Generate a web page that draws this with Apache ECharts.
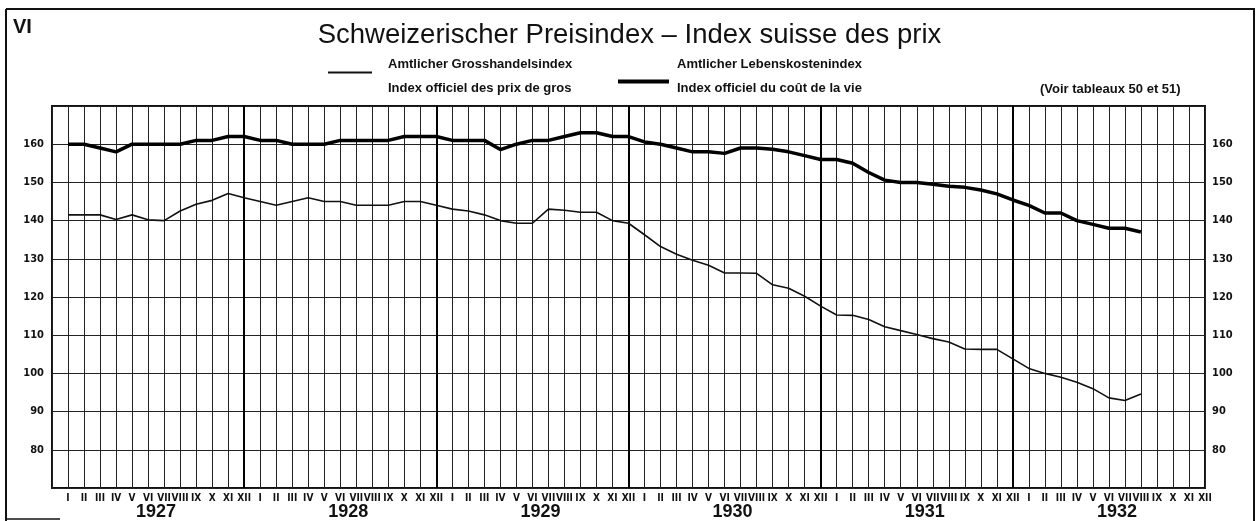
<!DOCTYPE html>
<html>
<head>
<meta charset="utf-8">
<script src="https://cdn.jsdelivr.net/npm/echarts@6/dist/echarts.min.js"></script>
<style>
html,body{margin:0;padding:0;background:#fff;}
#chart{width:1259px;height:521px;}
</style>
</head>
<body>
<div id="chart"></div>
<script>
// Month labels (Roman numerals) and years
const monthLabels = ['I','II','III','IV','V','VI','VII','VIII','IX','X','XI','XII'];
const yearLabels = ['1927','1928','1929','1930','1931','1932'];
// Year-end (XII) positions, month index from I 1927 = 0
const yearEnds = [11, 23, 35, 47, 59];

// Amtlicher Grosshandelsindex (thin line), I 1927 – VIII 1932
const grosshandel = [
  141.5,141.5,141.5,140.3,141.5,140.2,140,142.5,144.3,145.3,147.1,146,
  145,144,145,146,145,145,144,144,144,145,145,144,
  143,142.5,141.5,140,139.3,139.3,143,142.7,142.2,142.2,140,139.3,
  136.3,133.2,131.2,129.6,128.3,126.3,126.3,126.2,123.2,122.3,120.2,117.6,
  115.3,115.2,114.1,112.2,111.2,110.2,109.1,108.2,106.4,106.3,106.3,103.8,
  101.3,100,99,97.7,96,93.6,92.9,94.6
];
// Amtlicher Lebenskostenindex (thick line), I 1927 – VIII 1932
const lebenskosten = [
  160,160,159,158,160,160,160,160,161,161,162,162,
  161,161,160,160,160,161,161,161,161,162,162,162,
  161,161,161,158.6,160,161,161,162,163,163,162,162,
  160.6,160,159,158,158,157.6,159,159,158.7,158,157,156,
  156,155,152.6,150.6,150,150,149.5,149,148.7,148,147,145.4,
  144,142,142,140,139,138,138,137
];

const NARROW = '"Liberation Sans Narrow","DejaVu Sans Condensed","Liberation Sans",Arial,sans-serif';
const SANS = '"Liberation Sans",Arial,sans-serif';

const chart = echarts.init(document.getElementById('chart'), null, {renderer:'canvas'});

function isYearCenter(v){
  const k = (v - 5.5) / 12;
  return Math.abs(k - Math.round(k)) < 1e-6 && Math.round(k) >= 0 && Math.round(k) < yearLabels.length;
}

const legendTextRich = {
  a: {fontFamily: SANS, fontSize: 13, fontWeight: 'bold', color: '#111', lineHeight: 24},
  s: {fontSize: 1, lineHeight: 8}
};
const legendTextRich2 = {
  a: {fontFamily: SANS, fontSize: 13, fontWeight: 'bold', color: '#111', lineHeight: 24},
  s: {fontSize: 1, lineHeight: 10}
};

const option = {
  backgroundColor: '#fff',
  animation: false,
  title: [
    {
      text: 'Schweizerischer Preisindex – Index suisse des prix',
      left: 'center', top: 16,
      textStyle: {fontFamily: SANS, fontSize: 27.5, fontWeight: 'normal', color: '#111'}
    },
    {
      text: 'VI', left: 8, top: 12,
      textStyle: {fontFamily: SANS, fontSize: 20, fontWeight: 'bold', color: '#111'}
    },
    {
      text: '(Voir tableaux 50 et 51)', left: 1035, top: 78,
      textStyle: {fontFamily: SANS, fontSize: 13, fontWeight: 'bold', color: '#111'}
    }
  ],
  legend: [
    {
      data: ['Amtlicher Grosshandelsindex'],
      left: 328, top: 48, padding: 0,
      itemWidth: 44, itemHeight: 2, icon: 'rect',
      formatter: () => '{s| }\n{a|Amtlicher Grosshandelsindex}\n{a|Index officiel des prix de gros}',
      textStyle: {padding: [0,0,0,11], rich: legendTextRich},
      selectedMode: false
    },
    {
      data: ['Amtlicher Lebenskostenindex'],
      left: 618, top: 58, padding: 0,
      itemWidth: 51, itemHeight: 4, icon: 'rect',
      formatter: () => '{a|Amtlicher Lebenskostenindex}\n{a|Index officiel du coût de la vie}\n{s| }',
      textStyle: {padding: [0,0,0,3], rich: legendTextRich2},
      selectedMode: false
    }
  ],
  grid: {
    left: 52, right: 54, top: 106, bottom: 32,
    show: true, borderColor: '#111', borderWidth: 2, backgroundColor: 'transparent'
  },
  xAxis: [
    {
      type: 'value', min: -1, max: 71, interval: 1, position: 'bottom',
      axisLine: {show: false}, axisTick: {show: false},
      splitLine: {show: true, lineStyle: {color: '#222', width: 1}},
      axisLabel: {
        margin: 5, fontFamily: NARROW, fontSize: 10, fontWeight: 'bold', color: '#111',
        showMinLabel: true, showMaxLabel: true,
        formatter: v => (v < 0 ? '' : monthLabels[((Math.round(v) % 12) + 12) % 12])
      }
    },
    {
      type: 'value', min: -1, max: 71, interval: 0.5, position: 'bottom',
      axisLine: {show: false}, axisTick: {show: false}, splitLine: {show: false},
      axisLabel: {
        margin: 15, fontFamily: SANS, fontSize: 18, fontWeight: 'bold', color: '#111',
        formatter: v => isYearCenter(v) ? yearLabels[Math.round((v - 5.5) / 12)] : ''
      }
    }
  ],
  yAxis: [
    {
      type: 'value', min: 70, max: 170, interval: 10, position: 'left',
      axisLine: {show: false}, axisTick: {show: false},
      splitLine: {show: true, lineStyle: {color: '#222', width: 1}},
      axisLabel: {
        margin: 8, fontFamily: NARROW, fontSize: 11, fontWeight: 'bold', color: '#111',
        formatter: v => (v <= 70 || v >= 170) ? '' : String(v)
      }
    },
    {
      type: 'value', min: 70, max: 170, interval: 10, position: 'right',
      axisLine: {show: false}, axisTick: {show: false}, splitLine: {show: false},
      axisLabel: {
        margin: 7, fontFamily: NARROW, fontSize: 11, fontWeight: 'bold', color: '#111',
        formatter: v => (v <= 70 || v >= 170) ? '' : String(v)
      }
    }
  ],
  series: [
    {
      name: 'Amtlicher Grosshandelsindex',
      type: 'line', xAxisIndex: 0, yAxisIndex: 0,
      data: grosshandel.map((v, i) => [i, v]),
      showSymbol: false, symbol: 'none',
      lineStyle: {color: '#111', width: 1.6},
      itemStyle: {color: '#111'},
      z: 5,
      markLine: {
        silent: true, symbol: 'none', label: {show: false},
        lineStyle: {color: '#000', width: 2, type: 'solid'},
        data: yearEnds.map(x => ({xAxis: x}))
      }
    },
    {
      name: 'Amtlicher Lebenskostenindex',
      type: 'line', xAxisIndex: 0, yAxisIndex: 0,
      data: lebenskosten.map((v, i) => [i, v]),
      showSymbol: false, symbol: 'none',
      lineStyle: {color: '#000', width: 3.5},
      itemStyle: {color: '#000'},
      z: 6
    }
  ],
  graphic: [
    {type: 'line', shape: {x1: 6, y1: 9, x2: 1255, y2: 9}, style: {stroke: '#111', lineWidth: 2}, silent: true},
    {type: 'line', shape: {x1: 6, y1: 9, x2: 6, y2: 521}, style: {stroke: '#111', lineWidth: 2}, silent: true},
    {type: 'line', shape: {x1: 1254, y1: 9, x2: 1254, y2: 521}, style: {stroke: '#111', lineWidth: 2}, silent: true},
    {type: 'line', shape: {x1: 6, y1: 519, x2: 60, y2: 519}, style: {stroke: '#111', lineWidth: 1.5}, silent: true}
  ]
};
chart.setOption(option);
</script>
</body>
</html>
